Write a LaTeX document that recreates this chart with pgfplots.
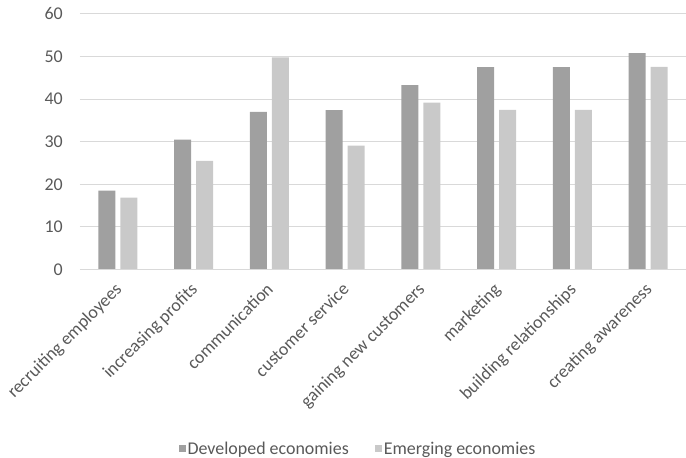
\documentclass[border=0pt]{standalone}
\usepackage{pgfplots}
\pgfplotsset{compat=1.18}
\usepackage{fontspec}
\setmainfont{Carlito}
\definecolor{devc}{HTML}{A0A0A0}
\definecolor{emgc}{HTML}{C9C9C9}
\definecolor{txtc}{HTML}{595959}
\definecolor{gridc}{HTML}{D9D9D9}
\begin{document}
\begin{tikzpicture}
\useasboundingbox (-80bp,-188.5bp) rectangle (606bp,269.5bp);
\begin{axis}[
  at={(0,0)}, anchor=south west,
  scale only axis, width=606bp, height=255.5bp,
  xmin=-0.5, xmax=7.5, ymin=0, ymax=60,
  ytick={0,10,...,60},
  xtick=data,
  xticklabels={recruiting employees,increasing profits,communication,customer service,gaining new customers,marketing,building relationships,creating awareness},
  axis line style={draw=none},
  xmajorgrids=false, ymajorgrids=true,
  grid style={draw=gridc, line width=1bp},
  major tick length=0pt,
  tick style={draw=none},
  /pgf/number format/assume math mode=true,
  ticklabel style={font=\fontsize{18}{21}\selectfont, text=txtc},
  yticklabel style={inner sep=0pt, xshift=-17bp},
  xticklabel style={xshift=-4bp, yshift=-12bp, rotate=45, anchor=north east, inner sep=0pt},
  ybar, bar width=17bp,
  legend style={draw=none, at={(0.4587,-0.703)}, anchor=center, legend columns=2, font=\fontsize{18}{21}\selectfont, text=txtc, /tikz/every even column/.append style={column sep=24bp}},
  legend image code/.code={\fill[#1] (0bp,-2.5bp) rectangle (7bp,4.5bp);},
]
\addplot[fill=devc, draw=none, bar shift=-11bp] coordinates {(0,18.5) (1,30.5) (2,37.0) (3,37.4) (4,43.3) (5,47.5) (6,47.5) (7,50.8)};
\addplot[fill=emgc, draw=none, bar shift=11bp] coordinates {(0,16.9) (1,25.5) (2,49.8) (3,29.1) (4,39.2) (5,37.5) (6,37.5) (7,47.6)};
\draw[gridc, line width=1bp] (rel axis cs:0,0) -- (rel axis cs:1,0);
\legend{Developed economies, Emerging economies}
\end{axis}
\end{tikzpicture}
\end{document}
